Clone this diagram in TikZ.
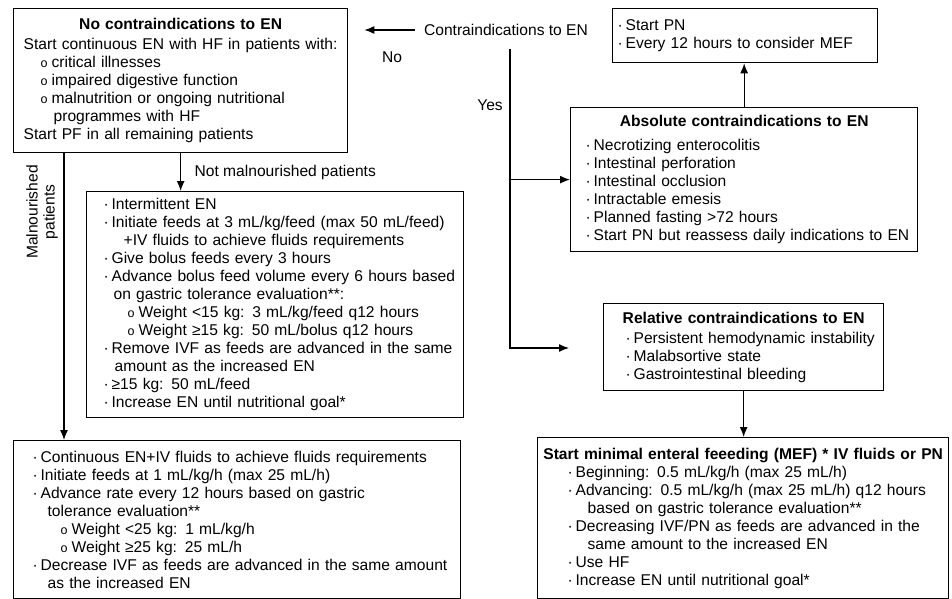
\documentclass[tikz,border=0pt]{standalone}
\usepackage{fontspec}
\setmainfont{Liberation Sans}
\usepackage{tikz}
\usetikzlibrary{arrows.meta}
\tikzset{
    box/.style={draw, line width=1.3pt, anchor=north west, align=left,
        inner xsep=2pt, inner ysep=0pt},
    flow/.style={line width=1.3pt, -{Latex[length=10pt,width=8pt]}}}
\newcommand{\indentby}[1]{\leftskip=#1\relax\rightskip=0pt plus 1fil minus 80pt\relax}
\newcommand{\dotb}{\makebox[8pt][l]{·}}
\newcommand{\circb}{\makebox[11pt][l]{\fontsize{12.5}{12.5}\selectfont o}}
\newcommand{\ttl}[1]{\hspace*{-\leftskip}\makebox[\linewidth]{\bfseries #1}}

\begin{document}
\begin{tikzpicture}[x=1pt, y=-1pt, font=\fontsize{15.6}{18}\selectfont]
    \useasboundingbox (0,0) rectangle (952,599);

    % left column
    \node[box, text width=330pt, minimum height=144pt] (A) at (13,8) {\indentby{8pt}%
        \ttl{No contraindications to EN}\\[2pt]
        Start continuous EN with HF in patients with:\\
        \hspace*{17pt}\circb critical illnesses\\
        \hspace*{17pt}\circb impaired digestive function\\
        \hspace*{17pt}\circb malnutrition or ongoing nutritional\\
        \hspace*{30pt}programmes with HF\\
        Start PF in all remaining patients\par};
    \node[box, text width=373pt, minimum height=226pt] (I) at (86,191) {\indentby{15pt}%
        \dotb Intermittent EN\\
        \dotb Initiate feeds at 3 mL/kg/feed (max 50 mL/feed)\\
        \hspace*{20pt}+IV fluids to achieve fluids requirements\\
        \dotb Give bolus feeds every 3 hours\\
        \dotb Advance bolus feed volume every 6 hours based\\
        \hspace*{10pt}on gastric tolerance evaluation**:\\
        \hspace*{24pt}\circb Weight <15 kg: 3 mL/kg/feed q12 hours\\
        \hspace*{24pt}\circb Weight ≥15 kg: 50 mL/bolus q12 hours\\
        \dotb Remove IVF as feeds are advanced in the same\\
        \hspace*{11pt}amount as the increased EN\\
        \dotb ≥15 kg: 50 mL/feed\\
        \dotb Increase EN until nutritional goal*\par};
    \node[box, text width=443pt, minimum height=158pt] (L) at (13,440) {\indentby{17pt}%
        \dotb Continuous EN+IV fluids to achieve fluids requirements\\
        \dotb Initiate feeds at 1 mL/kg/h (max 25 mL/h)\\
        \dotb Advance rate every 12 hours based on gastric\\
        \hspace*{15pt}tolerance evaluation**\\
        \hspace*{28pt}\circb Weight <25 kg: 1 mL/kg/h\\
        \hspace*{28pt}\circb Weight ≥25 kg: 25 mL/h\\
        \dotb Decrease IVF as feeds are advanced in the same amount\\
        \hspace*{15pt}as the increased EN\par};

    % right column
    \node (C) at (506,30) {Contraindications to EN};
    \node[box, text width=261pt, minimum height=54pt] (P) at (612,8) {\indentby{3pt}%
        \dotb Start PN\\
        \dotb Every 12 hours to consider MEF\par};
    \node[box, text width=343pt, minimum height=144pt] (Abs) at (570,107) {\indentby{13pt}%
        \ttl{Absolute contraindications to EN}\\[6pt]
        \dotb Necrotizing enterocolitis\\
        \dotb Intestinal perforation\\
        \dotb Intestinal occlusion\\
        \dotb Intractable emesis\\
        \dotb Planned fasting >72 hours\\
        \dotb Start PN but reassess daily indications to EN\par};
    \node[box, text width=276pt, minimum height=87pt] (Rel) at (603,303) {\indentby{20pt}%
        \ttl{Relative contraindications to EN}\\[2pt]
        \dotb Persistent hemodynamic instability\\
        \dotb Malabsortive state\\
        \dotb Gastrointestinal bleeding\par};
    \node[box, text width=407pt, minimum height=161pt] (M) at (537,437) {\indentby{4pt}%
        \ttl{Start minimal enteral feeeding (MEF) * IV fluids or PN}\\
        \hspace*{24pt}\dotb Beginning: 0.5 mL/kg/h (max 25 mL/h)\\
        \hspace*{24pt}\dotb Advancing: 0.5 mL/kg/h (max 25 mL/h) q12 hours\\
        \hspace*{44pt}based on gastric tolerance evaluation**\\
        \hspace*{24pt}\dotb Decreasing IVF/PN as feeds are advanced in the\\
        \hspace*{44pt}same amount to the increased EN\\
        \hspace*{24pt}\dotb Use HF\\
        \hspace*{24pt}\dotb Increase EN until nutritional goal*\par};

    % connectors
    \coordinate (T) at (510,348);
    \draw[flow, shorten <=6pt, shorten >=16pt] (C.west) -- (C.west -| A.east);
    \node (no) at (392,57) {No};
    \draw[flow, shorten >=34pt] ([yshift=-10pt]C.south -| T) -- (T) -- (T -| Rel.west);
    \draw[flow] (T |- Abs.west) -- (Abs.west);
    \node (yes) at (490,105) {Yes};
    \draw[flow] (Abs.north) -- (Abs.north |- P.south);
    \draw[flow] (Rel.south) -- (Rel.south |- M.north);
    \draw[flow] (A.south) -- (A.south |- I.north)
        node[midway, right, xshift=10pt] {Not malnourished patients};
    \draw[flow] ([xshift=51pt]A.south west) -- ([xshift=51pt]L.north west);
    \node[rotate=90, align=center, font=\fontsize{15.6}{17}\selectfont] (mal) at (42,212) {Malnourished\\patients};

\end{tikzpicture}
\end{document}
